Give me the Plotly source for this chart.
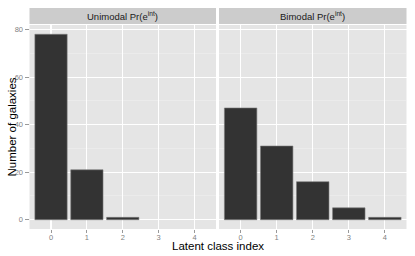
import plotly.graph_objects as go
from plotly.subplots import make_subplots

categories = ["0", "1", "2", "3", "4"]
unimodal = [78, 21, 1, 0, 0]
bimodal = [47, 31, 16, 5, 1]
panel_titles = ["Unimodal Pr(e<sup>int</sup>)", "Bimodal Pr(e<sup>int</sup>)"]
y_ticks = [0, 20, 40, 60, 80]

W, H = 415, 256
fig = make_subplots(rows=1, cols=2, shared_yaxes=True)

for i, vals in enumerate([unimodal, bimodal]):
    fig.add_trace(go.Bar(x=list(range(len(categories))), y=vals, width=0.9,
                         marker=dict(color="#333333",
                                     line=dict(color="#7a7a7a",
                                               width=[0.6 if v > 0 else 0 for v in vals])),
                         showlegend=False, hoverinfo="skip"), row=1, col=i + 1)

px = lambda v: v / W
py = lambda v: 1 - v / H
panel_top, panel_bot = 25, 229
doms = [(29.5, 216), (219, 406.5)]

font = "Liberation Sans, Arial, sans-serif"
for i, (a, b) in enumerate(doms):
    ax = "xaxis" if i == 0 else "xaxis2"
    fig.layout[ax].update(domain=[px(a), px(b)], range=[-0.6, 4.6],
                          tickvals=list(range(5)), ticktext=categories,
                          showgrid=True, gridcolor="white", gridwidth=1.1,
                          zeroline=False, showline=False,
                          ticks="outside", ticklen=3, tickcolor="#7f7f7f", tickwidth=0.8,
                          ticklabelstandoff=-2,
                          tickfont=dict(size=7.5, color="#7f7f7f", family=font))
    fig.add_shape(type="rect", xref="paper", yref="paper",
                  x0=px(a), x1=px(b), y0=py(24), y1=py(8),
                  fillcolor="#cccccc", line=dict(width=0), layer="below")
    fig.add_annotation(text=panel_titles[i], xref="paper", yref="paper",
                       x=(px(a) + px(b)) / 2, y=py(16), showarrow=False,
                       xanchor="center", yanchor="middle",
                       font=dict(size=9.5, color="#1a1a1a", family=font))

for ay in ["yaxis", "yaxis2"]:
    fig.layout[ay].update(domain=[py(panel_bot), py(panel_top)], range=[-3.9, 81.9],
                          tickvals=y_ticks, showgrid=True, gridcolor="white", gridwidth=1.1,
                          zeroline=False, showline=False,
                          minor=dict(dtick=10, tick0=0, showgrid=True, gridcolor="#f2f2f2",
                                     gridwidth=0.5, ticks=""),
                          tickfont=dict(size=7.5, color="#7f7f7f", family=font))
fig.layout.yaxis.update(ticks="outside", ticklen=4, tickcolor="#7f7f7f", tickwidth=0.8)
fig.layout.yaxis2.update(showticklabels=False, ticks="")

fig.add_annotation(text="Latent class index", xref="paper", yref="paper",
                   x=(px(29.5) + px(406.5)) / 2, y=py(246), showarrow=False,
                   xanchor="center", yanchor="middle",
                   font=dict(size=11.5, color="black", family=font))
fig.add_annotation(text="Number of galaxies", xref="paper", yref="paper",
                   x=px(11), y=py(127.5), showarrow=False, textangle=-90,
                   xanchor="center", yanchor="middle",
                   font=dict(size=11.5, color="black", family=font))

fig.update_layout(width=W, height=H, margin=dict(l=0, r=0, t=0, b=0),
                  paper_bgcolor="white", plot_bgcolor="#e5e5e5", bargap=0,
                  hovermode=False)
fig.write_html("out.html", config={"displayModeBar": False, "staticPlot": True},
               post_script="document.body.style.margin='0';")
